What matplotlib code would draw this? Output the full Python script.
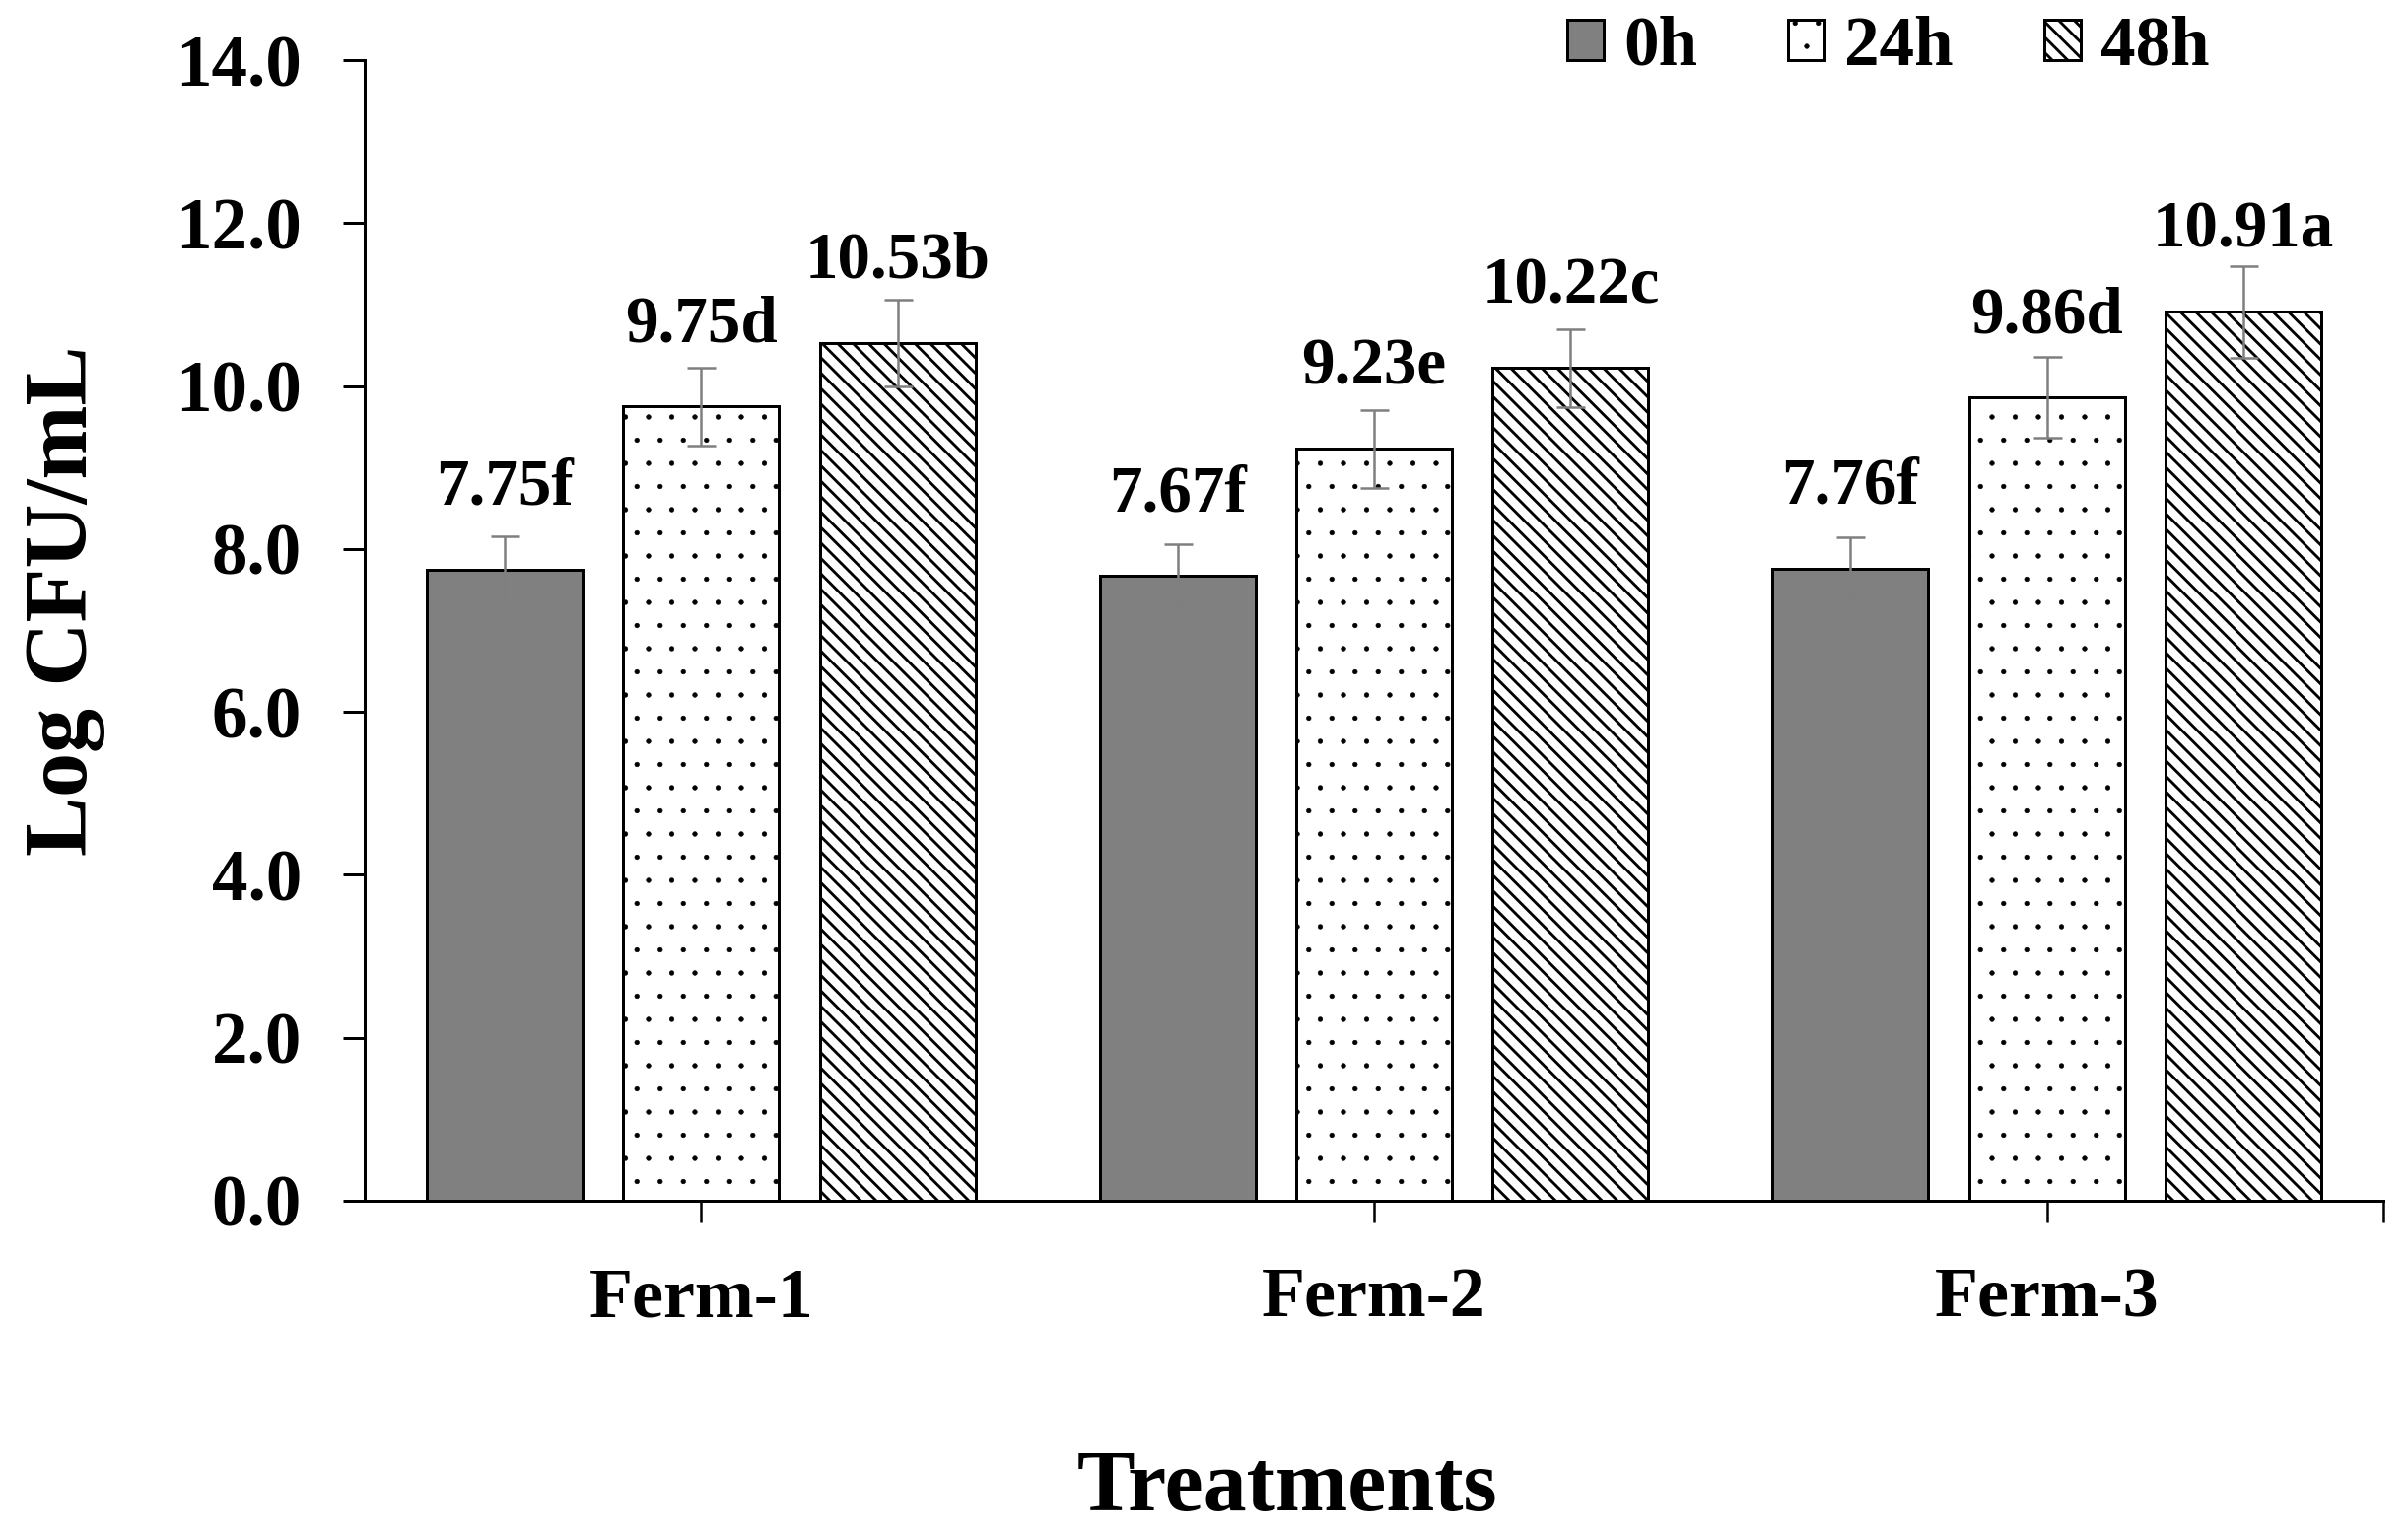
import matplotlib
matplotlib.use('Agg')
import matplotlib.pyplot as plt
import numpy as np

# ---------------- data ----------------
groups = ['Ferm-1', 'Ferm-2', 'Ferm-3']
series_names = ['0h', '24h', '48h']
vals_0h = [7.75, 7.67, 7.76]
vals_24h = [9.75, 9.23, 9.86]
vals_48h = [10.53, 10.22, 10.91]
err_0h = [0.40, 0.39, 0.38]
err_24h = [0.48, 0.48, 0.50]
err_48h = [0.53, 0.48, 0.56]
letters_0h = ['f', 'f', 'f']
letters_24h = ['d', 'e', 'd']
letters_48h = ['b', 'c', 'a']
yticks = [0, 2, 4, 6, 8, 10, 12, 14]
ylabel = 'Log CFU/mL'
xlabel = 'Treatments'

# ---------------- style ----------------
W, H = 2443, 1554
DPI = 141.4


def pt(px):
    return px * 72.0 / DPI


plt.rcParams['font.family'] = ['Liberation Serif', 'DejaVu Serif']
plt.rcParams['font.weight'] = 'bold'
plt.rcParams['hatch.color'] = 'black'

fig = plt.figure(figsize=(W / DPI, H / DPI), dpi=DPI)
ax = fig.add_axes([370 / W, 1 - 1218 / H, (2418 - 370) / W, (1218 - 61) / H])

x = np.arange(len(groups))
offsets = [-0.292, 0.0, 0.292]
width = 0.231
facecolors = ['#808080', 'white', 'white']
hatches = [None, '.', '\\\\\\']
hatch_lws = [1.0, 0.25, 1.45]
all_vals = [vals_0h, vals_24h, vals_48h]
all_errs = [err_0h, err_24h, err_48h]
all_letters = [letters_0h, letters_24h, letters_48h]

handles = []
for name, off, fc, h, hlw, vals, errs, lets in zip(series_names, offsets, facecolors,
                                                   hatches, hatch_lws, all_vals,
                                                   all_errs, all_letters):
    with plt.rc_context({'hatch.linewidth': hlw}):
        b = ax.bar(x + off, vals, width, color=fc, edgecolor='black',
                   linewidth=pt(3), hatch=h, label=name, zorder=2)
    for p in b.patches:
        if hasattr(p, 'set_hatch_linewidth'):
            p.set_hatch_linewidth(hlw)
    handles.append(b)
    ax.errorbar(x + off, vals, yerr=errs, fmt='none', ecolor='#7f7f7f',
                elinewidth=pt(2.5), capsize=pt(14.5), capthick=pt(2.5), zorder=3)
    for xi, v, l in zip(x + off, vals, lets):
        ax.text(xi, v + 0.8, f'{v:.2f}{l}', ha='center', va='baseline',
                fontsize=pt(67), fontweight='bold', zorder=4)

ax.set_xlim(-0.5, 2.5)
ax.set_ylim(0, 14)
for s in ['top', 'right']:
    ax.spines[s].set_visible(False)
for s in ['left', 'bottom']:
    ax.spines[s].set_linewidth(pt(3))
    ax.spines[s].set_color('black')

ax.set_yticks(yticks)
ax.set_yticklabels([f'{t:.1f}' for t in yticks])
ax.set_xticks(x)
ax.set_xticklabels(groups)
ax.set_xticks([2.5], minor=True)

ax.tick_params(axis='y', direction='out', length=pt(22), width=pt(3),
               pad=pt(42), labelsize=pt(73))
ax.tick_params(axis='x', which='major', direction='out', length=pt(22),
               width=pt(2.5), pad=pt(46), labelsize=pt(72))
ax.tick_params(axis='x', which='minor', direction='out', length=pt(22),
               width=pt(2.5))
for lab in ax.get_xticklabels() + ax.get_yticklabels():
    lab.set_fontweight('bold')

ax.set_ylabel(ylabel, fontsize=pt(90), fontweight='bold', va='baseline')
ax.yaxis.set_label_coords(-0.1377, 0.5264)
ax.set_xlabel(xlabel, fontsize=pt(88), fontweight='bold', va='baseline')
ax.xaxis.set_label_coords(0.457, -0.2714)

leg = fig.legend(handles, series_names, loc='center left',
                 bbox_to_anchor=(1590 / W, 1 - 48 / H), ncol=3, frameon=False,
                 prop={'size': pt(71), 'weight': 'bold'},
                 handlelength=0.52, handleheight=0.52, handletextpad=0.28,
                 columnspacing=1.3, borderpad=0, borderaxespad=0)
for lh, hlw in zip(leg.legend_handles, hatch_lws):
    if hasattr(lh, 'set_hatch_linewidth'):
        lh.set_hatch_linewidth(hlw)

fig.savefig('out.png', dpi=DPI, facecolor='white')
